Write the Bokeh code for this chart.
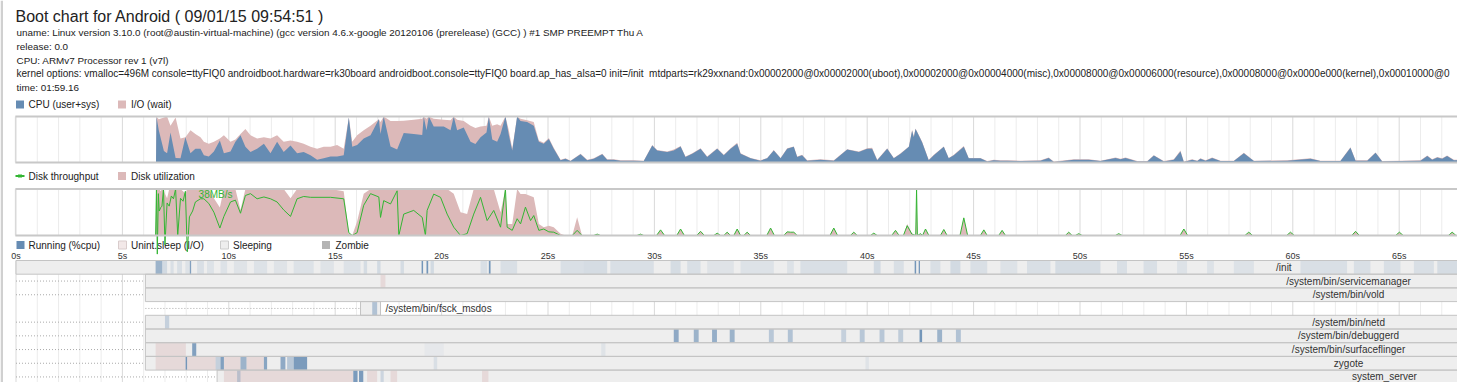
from bokeh.plotting import figure
from bokeh.models import Range1d
from bokeh.embed import file_html
from bokeh.resources import INLINE
from bokeh.core.properties import value

# ------------------------------------------------------------------ data
title_text = "Boot chart for Android ( 09/01/15 09:54:51 )"
header_lines = [
    "uname: Linux version 3.10.0 (root@austin-virtual-machine) (gcc version 4.6.x-google 20120106 (prerelease) (GCC) ) #1 SMP PREEMPT Thu A",
    "release: 0.0",
    "CPU: ARMv7 Processor rev 1 (v7l)",
    "time: 01:59.16",
]
kernel_line = ("kernel options: vmalloc=496M console=ttyFIQ0 androidboot.hardware=rk30board "
               "androidboot.console=ttyFIQ0 board.ap_has_alsa=0 init=/init\u00a0\u00a0mtdparts=rk29xxnand:"
               "0x00002000@0x00002000(uboot),0x00002000@0x00004000(misc),0x00008000@0x00006000(resource),"
               "0x00008000@0x0000e000(kernel),0x00010000@0")
cpu_legend_labels = ["CPU (user+sys)", "I/O (wait)"]
disk_legend_labels = ["Disk throughput", "Disk utilization"]
proc_legend_labels = ["Running (%cpu)", "Unint.sleep (I/O)", "Sleeping", "Zombie"]

tick_seconds = [0, 5, 10, 15, 20, 25, 30, 35, 40, 45, 50, 55, 60, 65]
tick_labels = ["0s", "5s", "10s", "15s", "20s", "25s", "30s", "35s", "40s", "45s", "50s", "55s", "60s", "65s"]

# CPU chart (percent)
cpu_time = [
    6.58, 6.60, 6.71, 6.95, 7.10, 7.26, 7.50, 7.73, 7.96, 8.20,
    8.43, 8.67, 8.83, 9.06, 9.30, 9.58, 9.77, 10.08, 10.31, 10.55,
    10.78, 11.02, 11.33, 11.65, 11.96, 12.27, 12.58, 12.90, 13.21, 13.52,
    13.84, 14.15, 14.46, 14.78, 15.09, 15.40, 15.64, 15.80, 16.03, 16.34,
    16.66, 17.05, 17.13, 17.28, 17.60, 17.91, 18.22, 18.69, 19.09, 19.16,
    19.29, 19.40, 19.63, 20.10, 20.42, 20.57, 20.73, 21.04, 21.36, 21.59,
    21.83, 22.11, 22.22, 22.38, 22.61, 22.77, 23.00, 23.16, 23.32, 23.55,
    23.71, 24.02, 24.33, 24.57, 24.80, 25.04, 25.27, 25.59, 25.82, 26.06,
    26.53, 26.84, 27.15, 27.55, 27.78, 28.09, 28.41, 29.03, 29.50, 29.90,
    30.13, 30.60, 30.91, 31.23, 31.46, 31.78, 32.17, 32.48, 32.95, 33.26,
    33.58, 33.89, 34.05, 34.52, 34.98, 35.30, 35.61, 35.93, 36.24, 36.55,
    36.71, 36.94, 37.18, 37.80, 38.43, 39.06, 39.61, 40.00, 40.23, 40.47,
    40.94, 41.25, 41.57, 41.96, 42.11, 42.19, 42.27, 42.35, 42.58, 42.89,
    43.13, 43.60, 43.83, 44.07, 44.54, 44.77, 45.32, 45.64, 45.95, 46.26,
    46.58, 47.20, 48.14, 48.53, 48.77, 49.71, 50.41, 50.96, 51.67, 51.90,
    52.14, 52.69, 53.16, 53.47, 53.94, 54.41, 54.72, 54.88, 55.27, 55.51,
    55.66, 55.90, 56.21, 56.60, 57.23, 57.70, 58.17, 59.74, 60.83, 61.30,
    62.24, 62.71, 62.95, 63.50, 63.89, 64.20, 65.06, 66.00, 66.32, 66.55,
    66.79, 67.02, 67.25, 67.57, 68.00,
]
cpu_user_sys = [
    0, 100, 70, 25, 20, 65, 10, 9, 55, 20,
    30, 30, 16, 13, 24, 48, 20, 24, 45, 59,
    34, 23, 30, 41, 20, 45, 23, 37, 20, 23,
    16, 6, 9, 13, 13, 16, 98, 34, 38, 52,
    59, 94, 62, 100, 35, 28, 64, 62, 60, 100,
    70, 100, 78, 78, 70, 100, 70, 76, 45, 40,
    55, 65, 100, 50, 45, 62, 100, 60, 26, 100,
    90, 88, 80, 45, 41, 51, 30, 5, 8, 3,
    18, 5, 8, 18, 6, 6, 4, 4, 3, 37,
    26, 23, 26, 35, 12, 19, 30, 12, 30, 16,
    30, 41, 19, 9, 4, 9, 26, 9, 30, 34,
    12, 16, 4, 6, 4, 28, 23, 30, 30, 5,
    30, 9, 19, 34, 69, 55, 73, 66, 44, 5,
    16, 34, 9, 16, 34, 9, 9, 2, 5, 4,
    4, 3, 4, 10, 1, 6, 6, 3, 10, 7,
    10, 2, 2, 15, 2, 6, 24, 1, 6, 3,
    8, 4, 10, 3, 3, 20, 3, 4, 8, 3,
    3, 32, 4, 4, 21, 2, 3, 4, 14, 6,
    11, 8, 14, 5, 5,
]
cpu_io_wait = [
    0, 0, 24, 73, 80, 15, 88, 43, 0, 50,
    32, 25, 29, 28, 21, 4, 39, 21, 5, 3,
    39, 36, 22, 14, 32, 14, 22, 11, 25, 18,
    18, 24, 25, 21, 25, 14, 0, 11, 21, 18,
    21, 0, 26, 0, 55, 62, 27, 31, 35, 0,
    25, 0, 17, 15, 22, 0, 23, 14, 35, 35,
    23, 15, 0, 30, 38, 18, 0, 10, 4, 0,
    5, 4, 8, 3, 2, 2, 2, 1, 1, 1,
    1, 1, 1, 1, 1, 1, 1, 1, 1, 1,
    1, 1, 2, 1, 1, 1, 1, 1, 1, 1,
    1, 2, 1, 1, 1, 1, 1, 1, 1, 1,
    1, 1, 1, 1, 1, 1, 1, 1, 2, 1,
    1, 1, 1, 1, 2, 2, 1, 1, 1, 1,
    1, 1, 1, 1, 2, 1, 1, 1, 1, 1,
    1, 1, 1, 1, 1, 1, 1, 1, 1, 1,
    1, 1, 1, 1, 1, 1, 2, 1, 1, 1,
    1, 1, 1, 1, 1, 1, 1, 1, 1, 1,
    1, 1, 1, 1, 1, 1, 1, 1, 1, 1,
    1, 1, 1, 1, 1,
]

# Disk chart: utilization (percent) and throughput (MB/s)
disk_time = [
    6.56, 6.60, 6.64, 6.69, 6.73, 6.80, 6.86, 6.93, 7.00, 7.10,
    7.20, 7.30, 7.40, 7.50, 7.60, 7.73, 7.85, 7.96, 8.05, 8.15,
    8.30, 8.43, 8.67, 8.83, 9.06, 9.30, 9.58, 9.77, 10.08, 10.31,
    10.55, 10.78, 11.02, 11.33, 11.65, 11.96, 12.27, 12.58, 12.90, 13.21,
    13.52, 13.84, 14.78, 15.40, 15.64, 15.80, 16.03, 16.34, 16.66, 17.05,
    17.13, 17.28, 17.60, 17.91, 17.99, 18.22, 18.69, 19.09, 19.24, 19.32,
    19.63, 19.95, 20.26, 20.57, 20.89, 21.20, 21.51, 21.83, 22.14, 22.45,
    22.77, 23.00, 23.08, 23.32, 23.55, 23.71, 23.94, 24.18, 24.33, 24.57,
    24.80, 25.04, 25.27, 25.59, 25.82, 26.14, 26.37, 26.60, 27.15, 27.31,
    27.47, 29.18, 29.34, 29.50, 30.10, 30.29, 30.48, 31.05, 31.23, 31.41,
    31.99, 32.17, 32.35, 32.79, 32.95, 33.11, 33.26, 33.42, 33.58, 33.73,
    33.89, 34.05, 34.20, 34.36, 34.52, 35.28, 35.46, 35.64, 36.08, 36.24,
    36.40, 36.55, 36.71, 38.25, 38.43, 38.61, 39.21, 39.37, 39.53, 40.15,
    40.31, 40.47, 41.15, 41.33, 41.50, 41.70, 41.88, 42.10, 42.28, 42.32,
    42.36, 42.51, 42.60, 42.74, 42.90, 43.44, 43.60, 43.76, 44.36, 44.54,
    44.72, 45.32, 45.48, 45.64, 46.18, 46.34, 46.50, 49.31, 49.47, 49.63,
    49.78, 49.94, 50.10, 51.66, 51.82, 51.98, 54.70, 54.88, 55.06, 57.75,
    57.93, 58.11, 59.71, 59.89, 60.07, 62.77, 62.95, 63.13, 64.83, 65.01,
    65.19, 67.31, 67.49, 67.67, 68.00,
]
disk_util = [
    0, 100, 100, 100, 100, 95, 100, 100, 90, 80,
    100, 100, 100, 100, 100, 100, 95, 90, 100, 100,
    100, 100, 100, 100, 100, 80, 60, 100, 100, 100,
    55, 100, 100, 100, 100, 100, 100, 100, 80, 100,
    100, 100, 100, 95, 5, 0, 30, 90, 100, 100,
    100, 100, 100, 100, 100, 100, 100, 100, 100, 100,
    100, 100, 100, 90, 50, 46, 100, 100, 100, 100,
    50, 100, 25, 25, 100, 89, 89, 85, 82, 25,
    18, 21, 18, 4, 0, 0, 39, 0, 0, 4,
    0, 0, 4, 0, 0, 12, 0, 0, 14, 0,
    0, 9, 0, 0, 5, 0, 0, 7, 0, 0,
    14, 0, 0, 7, 0, 0, 16, 0, 0, 8,
    7, 7, 0, 0, 16, 0, 0, 7, 0, 0,
    5, 0, 0, 11, 0, 0, 25, 5, 0, 100,
    0, 4, 0, 14, 0, 0, 13, 0, 0, 39,
    0, 0, 12, 0, 0, 11, 0, 0, 7, 0,
    0, 4, 0, 0, 4, 0, 0, 14, 0, 0,
    7, 0, 0, 7, 0, 0, 9, 0, 0, 7,
    0, 0, 7, 0, 0,
]
disk_tput = [
    0, 38.0, -15.2, 34.2, 20.0, 22.8, 24.0, 38.0, -7.6, 26.6,
    24.0, 32.3, 30.0, 38.0, 0.0, 30.4, 28.0, 36.1, -13.3, 15.2,
    20.0, 27.4, 30.0, 30.0, 26.2, 19.0, 6.1, 15.6, 27.4, 28.9,
    18.2, 32.7, 34.2, 30.0, 31.5, 30.0, 27.4, 20.9, 15.6, 30.0,
    31.9, 31.2, 31.2, 30.0, 2.3, 0.0, 2.3, 24.7, 34.2, 31.5,
    14.8, 28.5, 25.8, 36.5, 0.0, 17.5, 20.5, 14.8, 0.0, 20.5,
    33.8, 31.2, 17.5, 6.8, 0.0, 1.5, 17.5, 31.2, 12.2, 20.5,
    6.8, 38.0, 6.8, 4.2, 13.7, 9.5, 23.2, 12.2, 16.3, 4.2,
    5.3, 3.0, 2.7, 0.0, 0.0, 0.0, 4.2, 0.0, 0.0, 1.1,
    0, 0, 1.1, 0, 0, 4.6, 0, 0, 5.3, 0,
    0, 3.4, 0, 0, 1.9, 0, 0, 2.7, 0, 0,
    5.3, 0, 0, 2.7, 0, 0, 6.1, 0, 0, 3.0,
    2.7, 2.7, 0, 0, 6.1, 0, 0, 2.7, 0, 0,
    1.9, 0, 0, 4.2, 0, 0, 8.0, 1.1, 0, 38.0,
    0, 1.5, 0, 5.3, 0, 0, 4.9, 0, 0, 14.4,
    0, 0, 4.6, 0, 0, 4.2, 0, 0, 2.7, 0,
    0, 1.5, 0, 0, 1.5, 0, 0, 5.3, 0, 0,
    2.7, 0, 0, 2.7, 0, 0, 3.4, 0, 0, 2.7,
    0, 0, 2.7, 0, 0,
]
disk_max_tput = 38.0
disk_max_time = 8.58
disk_max_label = "38MB/s"

# Processes
proc_names = ["/init", "/system/bin/servicemanager", "/system/bin/vold",
              "/system/bin/fsck_msdos", "/system/bin/netd", "/system/bin/debuggerd",
              "/system/bin/surfaceflinger", "zygote", "system_server"]
proc_start = [0.0, 6.08, 6.08, 16.19, 6.08, 6.08, 6.08, 6.08, 9.45]
proc_end = [119.16, 119.16, 119.16, 17.13, 119.16, 119.16, 119.16, 119.16, 119.16]
proc_parent_start = [0.0, 0.0, 0.0, 6.08, 0.0, 0.0, 0.0, 0.0, 0.0]
proc_label_outside = [False, False, False, True, False, False, False, False, False]

init_run_t0 = [6.56, 6.87, 7.26, 7.57, 7.96, 8.17, 8.51, 8.98, 9.61, 10.24,
               11.18, 12.12, 13.05, 14.31, 15.40, 16.34, 16.97, 18.07, 19.06, 19.29,
               19.48, 21.83, 22.22, 22.77, 25.59, 26.68, 27.93, 30.76, 31.54, 32.48,
               34.05, 36.24, 36.86, 40.31, 41.25, 42.23, 42.42, 42.97, 43.91, 44.85,
               46.26, 47.51, 48.84, 51.74, 52.99, 54.56, 55.97, 57.23, 60.36, 62.87,
               64.28, 65.69, 66.79]
init_run_t1 = [6.87, 7.10, 7.41, 7.80, 8.17, 8.23, 8.83, 9.30, 9.92, 10.86,
               11.80, 12.74, 13.99, 14.94, 16.19, 16.50, 17.13, 18.23, 19.13, 19.37,
               19.64, 22.14, 22.30, 23.55, 26.68, 27.78, 29.97, 31.23, 32.17, 33.73,
               35.61, 36.55, 39.06, 40.63, 41.72, 42.30, 42.48, 43.44, 44.38, 45.64,
               47.05, 48.61, 50.96, 52.21, 53.62, 55.03, 56.29, 58.17, 62.55, 63.65,
               65.06, 66.63, 67.74]
init_run_load = [0.6, 0.2, 0.15, 0.15, 0.12, 0.8, 0.15, 0.12, 0.12, 0.1,
                 0.12, 0.1, 0.12, 0.1, 0.12, 0.18, 0.2, 0.18, 0.9, 0.9,
                 0.2, 0.15, 0.9, 0.15, 0.15, 0.18, 0.15, 0.18, 0.15, 0.1,
                 0.12, 0.12, 0.15, 0.2, 0.15, 0.9, 0.9, 0.15, 0.2, 0.15,
                 0.12, 0.15, 0.18, 0.15, 0.15, 0.12, 0.12, 0.12, 0.15, 0.15,
                 0.15, 0.15, 0.18]

run_row = [3, 4,
           5, 5, 5, 5, 5, 5, 5, 5, 5, 5, 5, 5, 5,
           6, 6, 6,
           7, 7, 7, 7, 7, 7, 7, 7, 7, 7,
           8, 8, 8, 8]
run_t0 = [16.74, 7.00,
          30.91, 31.85, 32.71, 33.54, 35.38, 36.27, 38.78, 39.65, 40.58, 41.46, 42.46, 43.29, 44.17,
          8.28, 19.20, 27.50,
          7.97, 9.38, 9.61, 10.55, 11.65, 12.43, 12.74, 13.05, 19.63, 39.92,
          10.39, 15.85, 16.12, 17.13]
run_t1 = [16.97, 7.20,
          31.14, 32.08, 32.94, 33.77, 35.61, 36.50, 39.01, 39.88, 40.81, 41.69, 42.58, 43.52, 44.40,
          8.47, 20.10, 27.70,
          8.04, 9.61, 9.77, 10.83, 11.80, 12.66, 13.05, 13.68, 19.79, 40.08,
          10.55, 16.05, 16.32, 17.28]
run_load = [0.45, 0.3,
            0.7, 0.6, 0.65, 0.6, 0.4, 0.45, 0.3, 0.4, 0.4, 0.35, 0.9, 0.6, 0.45,
            0.8, 0.06, 0.1,
            0.9, 0.3, 0.8, 0.6, 0.75, 0.7, 0.4, 0.85, 0.15, 0.1,
            0.35, 0.85, 0.85, 0.25]

io_row = [1, 6, 7, 7, 7, 7, 8, 8, 8, 8]
io_t0 = [17.13, 6.56, 6.56, 8.04, 9.77, 10.83, 9.77, 16.50, 17.60, 21.90]
io_t1 = [17.36, 7.98, 7.97, 9.38, 10.55, 11.65, 15.85, 16.97, 17.91, 22.20]

# ------------------------------------------------------------------ style / layout
W, H = 1457, 382
T0_PX = 15.5          # pixel of t = 0
PX_PER_S = 21.28      # pixels per second
CPU_PX = (162.0, 116.0)    # pixel rows of 0 % and 100 %
DISK_PX = (235.0, 188.5)
PROC_TOP, ROW_H = 260.0, 13.7

FONT = value("Liberation Sans")
TXT = "#222222"
CPU_C = "#668cb3"
IO_C = "#dcb9b9"
TPUT_C = "#33b533"
SLEEP_C = "#eeeeee"
BORDER_C = "#c4c4c4"
D_C = "#c27a7a"
GRID_C = "#ececec"
GRID5_C = "#d9d9d9"


def lin_range(v_a, px_a, v_b, px_b):
    slope = (px_b - px_a) / (v_b - v_a)
    return Range1d(start=v_a + (H - px_a) / slope, end=v_a + (0 - px_a) / slope)


p = figure(width=W, height=H, output_backend="svg", toolbar_location=None,
           x_range=Range1d(-T0_PX / PX_PER_S, (W - T0_PX) / PX_PER_S),
           y_range=Range1d(H, 0), min_border=0,
           x_axis_location=None, y_axis_location=None)
p.xgrid.visible = False
p.ygrid.visible = False
p.outline_line_color = None
p.background_fill_color = "white"
p.border_fill_color = "white"
p.extra_x_ranges = {"px": Range1d(0, W)}
p.extra_y_ranges = {
    "cpu": lin_range(0, CPU_PX[0], 100, CPU_PX[1]),
    "disk": lin_range(0, DISK_PX[0], 100, DISK_PX[1]),
    "tput": lin_range(0, DISK_PX[0], disk_max_tput, DISK_PX[1]),
    "proc": lin_range(0, PROC_TOP, 1, PROC_TOP + ROW_H),
}

# page edge
p.quad(left=[0], right=[2.5], top=[0], bottom=[H], fill_color="#d0d0d0",
       line_color=None, x_range_name="px")

# header
p.text(x=[15], y=[16], text=[title_text], text_font=FONT, text_font_size="16px",
       text_baseline="middle", text_color=TXT, x_range_name="px")
p.text(x=[16] * 4, y=[32, 46, 60, 87], text=header_lines, text_font=FONT,
       text_font_size="9.9px", text_baseline="middle", text_color=TXT, x_range_name="px")
p.text(x=[16], y=[73], text=[kernel_line], text_font=FONT,
       text_font_size="10px", text_baseline="middle", text_color=TXT, x_range_name="px")


def legend_box(x, y, color, border=None):
    p.quad(left=[x], right=[x + 8], top=[y - 4], bottom=[y + 4], fill_color=color,
           line_color=border, x_range_name="px")


def legend_text(xs, y, labels):
    p.text(x=xs, y=[y] * len(xs), text=labels, text_font=FONT, text_font_size="10px",
           text_baseline="middle", text_color=TXT, x_range_name="px")


legend_box(15.5, 104, CPU_C)
legend_box(117.5, 104, IO_C)
legend_text([28, 130.5], 104, cpu_legend_labels)

p.segment(x0=[15], x1=[24], y0=[175.5], y1=[175.5], line_color=TPUT_C, line_width=2,
          x_range_name="px")
p.quad(left=[17.5], right=[21.5], top=[174], bottom=[177], fill_color=TPUT_C,
       line_color=None, x_range_name="px")
legend_box(117.5, 175.5, IO_C)
legend_text([28, 130.5], 175.5, disk_legend_labels)

legend_box(16, 244.5, CPU_C)
legend_box(118, 244.5, "#f2e8e8", "#d9cccc")
legend_box(220, 244.5, SLEEP_C, "#cccccc")
legend_box(321.5, 244.5, "#b4b4b4")
legend_text([28, 130.5, 232.5, 335], 244.5, proc_legend_labels)

# grid (1 s) for charts
secs = list(range(0, 69))
minor = [s for s in secs if s % 5]
major = [s for s in secs if s % 5 == 0]
for rng, lo, hi in (("cpu", 0, 100), ("disk", 0, 100)):
    p.segment(x0=minor, x1=minor, y0=lo, y1=hi, line_color=GRID_C, y_range_name=rng)
    p.segment(x0=major, x1=major, y0=lo, y1=hi, line_color=GRID5_C, y_range_name=rng)

# CPU chart
cpu_total = [c + i for c, i in zip(cpu_user_sys, cpu_io_wait)]
p.varea(x=cpu_time, y1=0, y2=cpu_total, fill_color=IO_C, y_range_name="cpu")
p.varea(x=cpu_time, y1=0, y2=cpu_user_sys, fill_color=CPU_C, y_range_name="cpu")

# disk chart
p.varea(x=disk_time, y1=0, y2=disk_util, fill_color=IO_C, y_range_name="disk")
p.line(x=disk_time, y=disk_tput, line_color=TPUT_C, line_width=1, y_range_name="tput")
p.text(x=[disk_max_time], y=[disk_max_tput], text=[disk_max_label], text_font=FONT,
       text_font_size="10px", text_baseline="top", text_color=TPUT_C,
       y_range_name="tput")

# chart boxes
for rng in ("cpu", "disk"):
    p.segment(x0=[-0.03, -0.03], x1=[200, 200], y0=[0, 100], y1=[0, 100],
              line_color="#c8c8c8", line_width=2, y_range_name=rng)
    p.segment(x0=[-0.03], x1=[-0.03], y0=[0], y1=[100], line_color="#d6d6d6",
              line_width=1, y_range_name=rng)

# time axis labels
p.text(x=tick_seconds, y=[255] * len(tick_seconds), text=tick_labels, text_font=FONT,
       text_font_size="9px", text_align="center", text_baseline="middle",
       text_color="#333333")

# process chart
n = len(proc_names)
p.segment(x0=minor, x1=minor, y0=0, y1=n, line_color=GRID_C, y_range_name="proc")
p.segment(x0=major, x1=major, y0=0, y1=n, line_color=GRID5_C, y_range_name="proc")

rows = list(range(n))
dot_rows = [r for r in rows if proc_start[r] > proc_parent_start[r]]
p.segment(x0=[proc_parent_start[r] for r in dot_rows], x1=[proc_start[r] for r in dot_rows],
          y0=[r + 0.5 for r in dot_rows], y1=[r + 0.5 for r in dot_rows],
          line_color="#aaaaaa", line_dash="1 2", y_range_name="proc")

p.quad(left=proc_start, right=proc_end, top=rows, bottom=[r + 1 for r in rows],
       fill_color=SLEEP_C, line_color=None, y_range_name="proc")
p.quad(left=io_t0, right=io_t1, top=io_row, bottom=[r + 1 for r in io_row],
       fill_color=D_C, fill_alpha=0.18, line_color=None, y_range_name="proc")
all_row = [0] * len(init_run_t0) + run_row
all_t0 = init_run_t0 + run_t0
all_t1 = init_run_t1 + run_t1
all_load = init_run_load + run_load
p.quad(left=all_t0, right=all_t1, top=all_row, bottom=[r + 1 for r in all_row],
       fill_color=CPU_C, fill_alpha=all_load, line_color=None, y_range_name="proc")
p.quad(left=proc_start, right=proc_end, top=rows, bottom=[r + 1 for r in rows],
       fill_color=None, line_color=BORDER_C, line_width=1, y_range_name="proc")

in_x = [(s + e) / 2 for s, e, o in zip(proc_start, proc_end, proc_label_outside) if not o]
in_y = [r + 0.5 for r, o in zip(rows, proc_label_outside) if not o]
in_t = [nm for nm, o in zip(proc_names, proc_label_outside) if not o]
p.text(x=in_x, y=in_y, text=in_t, text_font=FONT, text_font_size="10px",
       text_align="center", text_baseline="middle", text_color="#333333",
       y_range_name="proc")
gap = 5 / PX_PER_S
out_x = [e + gap for e, o in zip(proc_end, proc_label_outside) if o]
out_y = [r + 0.5 for r, o in zip(rows, proc_label_outside) if o]
out_t = [nm for nm, o in zip(proc_names, proc_label_outside) if o]
p.text(x=out_x, y=out_y, text=out_t, text_font=FONT, text_font_size="10px",
       text_align="left", text_baseline="middle", text_color="#333333",
       y_range_name="proc")

open("out.html", "w").write(file_html(p, INLINE))
